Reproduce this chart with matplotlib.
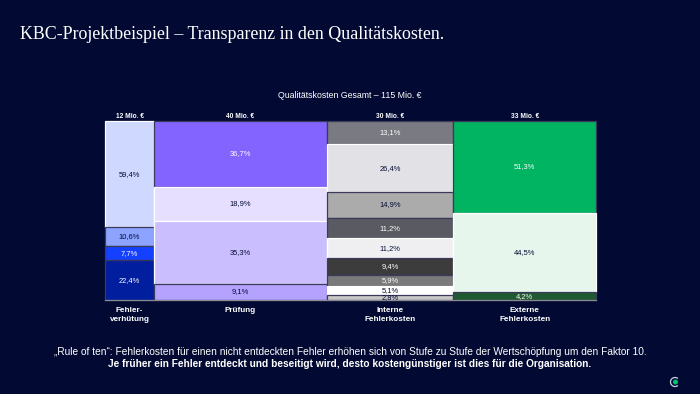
import matplotlib
matplotlib.use("Agg")
import matplotlib.pyplot as plt
from matplotlib.patches import Arc, Circle

plt.rcParams["font.family"] = ["Liberation Sans", "DejaVu Sans"]

BG = "#020A33"

# column widths, labels as printed
column_values = [11.5, 40.3, 29.6, 33.3]
column_totals = ["12 Mio. €", "40 Mio. €", "30 Mio. €", "33 Mio. €"]
column_names = ["Fehler-\nverhütung", "Prüfung", "Interne\nFehlerkosten", "Externe\nFehlerkosten"]

shares_verhuetung = [59.4, 10.6, 7.7, 22.4]
shares_pruefung = [36.7, 18.9, 35.3, 9.1]
shares_intern = [13.1, 26.4, 14.9, 11.2, 11.2, 9.4, 5.9, 5.1, 2.8]
shares_extern = [51.3, 44.5, 4.2]
all_shares = [shares_verhuetung, shares_pruefung, shares_intern, shares_extern]

colors_verhuetung = ["#CFD9FF", "#8CA4FF", "#1440FF", "#001E9E"]
colors_pruefung = ["#8464FF", "#E6DFFF", "#CBBEFF", "#B5A2FF"]
colors_intern = ["#7A7A82", "#E2E2E6", "#ABABAB", "#5A5A62", "#EFEFF2",
                 "#3C3C3C", "#7A7A7A", "#FFFFFF", "#C8C8C8"]
colors_extern = ["#00B462", "#E6F6EC", "#1F5A30"]
all_colors = [colors_verhuetung, colors_pruefung, colors_intern, colors_extern]

text_verhuetung = [BG, BG, "white", "white"]
text_pruefung = ["white", BG, BG, BG]
text_intern = ["white", BG, BG, "white", BG, "white", "white", BG, BG]
text_extern = ["white", BG, "white"]
all_text = [text_verhuetung, text_pruefung, text_intern, text_extern]


def pct(v):
    return f"{v:.1f}%".replace(".", ",")


W, H = 700, 394
fig = plt.figure(figsize=(7, 3.94), dpi=100, facecolor=BG)
ax = fig.add_axes([105 / W, 1 - 300 / H, 491 / W, 179 / H], facecolor=BG)
ax.set_xlim(0, sum(column_values))
ax.set_ylim(100, 0)
ax.axis("off")

left = 0
for i, width in enumerate(column_values):
    top = 0
    for share, color, tc in zip(all_shares[i], all_colors[i], all_text[i]):
        # light segments carry a white outline in the original, dark ones a navy one
        rgb = matplotlib.colors.to_rgb(color)
        edge = "white" if sum(rgb) / 3 > 0.8 else "#3A3A5A"
        ax.bar(left, share, width=width, bottom=top, align="edge", color=color,
               edgecolor=edge, linewidth=0.9, clip_on=False)
        ax.text(left + width / 2, top + share / 2, pct(share), color=tc, fontsize=5.4,
                ha="center", va="center")
        top += share
    ax.text(left + width / 2, -0.6, column_totals[i], color="white", fontsize=4.8,
            fontweight="bold", ha="center", va="bottom")
    ax.text(left + width / 2, 103.8, column_names[i], color="white", fontsize=5.9,
            fontweight="bold", ha="center", va="top", linespacing=1.5)
    left += width
ax.axhline(100, color="#8A8A94", lw=0.9, clip_on=False)


def t(x, y, s, **kw):
    fig.text(x / W, 1 - y / H, s, **kw)


t(20, 34.5, "KBC-Projektbeispiel – Transparenz in den Qualitätskosten.", color="white",
  fontsize=12.85, family="Liberation Serif", ha="left", va="center")
t(350, 95, "Qualitätskosten Gesamt – 115 Mio. €", color="white", fontsize=6.3,
  ha="center", va="center")
t(350, 352, "„Rule of ten“: Fehlerkosten für einen nicht entdeckten Fehler erhöhen sich von Stufe zu Stufe der Wertschöpfung um den Faktor 10.",
  color="white", fontsize=7.33, ha="center", va="center")
t(350, 364, "Je früher ein Fehler entdeckt und beseitigt wird, desto kostengünstiger ist dies für die Organisation.",
  color="white", fontsize=7.3, fontweight="bold", ha="center", va="center")

# logo bottom right
logo = fig.add_axes([0, 0, 1, 1], facecolor="none")
logo.set_xlim(0, W)
logo.set_ylim(H, 0)
logo.axis("off")
logo.add_patch(Arc((675, 382), 9, 9, theta1=50, theta2=310, color="#C8D0E0", lw=0.9))
logo.add_patch(Circle((675.5, 382), 1.8, color="#00C070"))

fig.savefig("out.png", dpi=100, facecolor=BG)
